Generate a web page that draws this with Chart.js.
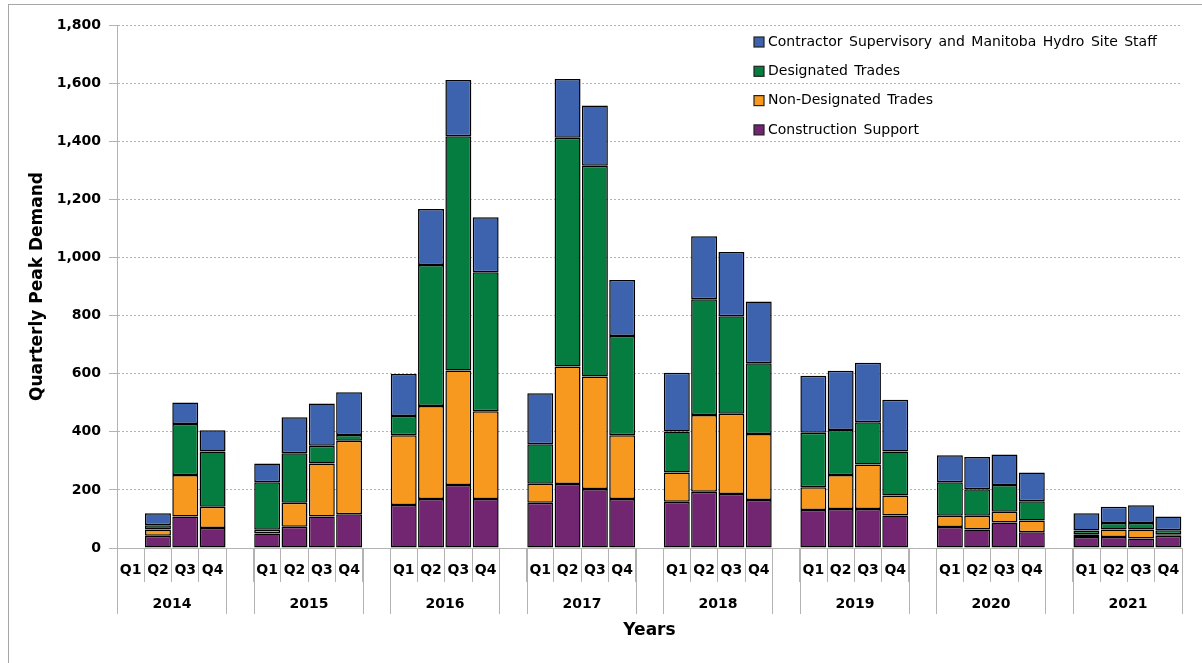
<!DOCTYPE html>
<html>
<head>
<meta charset="utf-8">
<script src="https://cdn.jsdelivr.net/npm/chart.js@4.4.0/dist/chart.umd.min.js"></script>
<style>
  html, body { margin: 0; padding: 0; background: #fff; }
  #frame { position: absolute; left: 8px; top: 4px; width: 1300px; height: 700px;
           border-left: 1px solid #a6a6a6; border-top: 1px solid #a6a6a6; }
  #wrap { position: absolute; left: 0; top: 0; width: 1202px; height: 663px; }
</style>
</head>
<body>
<div id="frame"></div>
<div id="wrap"><canvas id="myChart"></canvas></div>
<script type="text/javascript">
// quarterly peak demand, stacked by worker category
var years = ["2014", "2015", "2016", "2017", "2018", "2019", "2020", "2021"]
var quarters = ["Q1", "Q2", "Q3", "Q4"]

// 4 values per year, Q1..Q4 (null = no bar)
var constructionSupport = [null, 42, 108, 69,  50, 73, 108, 116,  148, 169, 217, 169,  156, 220, 203, 169,
                           159, 194, 186, 165,  131, 134, 134, 112,  72, 64, 88, 54,  38, 38, 33, 42]
var nonDesignated = [null, 22, 143, 73,  13, 83, 183, 253,  240, 320, 394, 302,  65, 405, 387, 219,
                     101, 264, 276, 227,  78, 117, 153, 69,  39, 47, 37, 41,  9, 26, 31, 5]
var designated = [null, 14, 176, 190,  163, 170, 61, 20,  66, 485, 806, 478,  136, 787, 726, 342,
                  141, 398, 336, 244,  188, 155, 146, 151,  115, 91, 92, 66,  13, 22, 22, 14]
var contractorStaff = [null, 42, 74, 73,  65, 124, 145, 147,  145, 193, 194, 189,  176, 202, 207, 192,
                       202, 217, 221, 212,  196, 204, 205, 178,  93, 111, 105, 99,  60, 56, 61, 47]

var yTicks = [0, 200, 400, 600, 800, 1000, 1200, 1400, 1600, 1800]

// one empty slot between each year
var labels = []
years.forEach((y, i) => {
  quarters.forEach(q => labels.push(q))
  if (i < years.length - 1) labels.push("")
})
function spread(vals) {
  var out = []
  years.forEach((y, i) => {
    for (var q = 0; q < 4; q++) out.push(vals[i * 4 + q])
    if (i < years.length - 1) out.push(null)
  })
  return out
}

var FONT = "'DejaVu Sans', sans-serif"
var gridGray = '#b3b3b3'

function barSet(label, data, color) {
  return {
    label: label,
    data: spread(data),
    backgroundColor: color,
    borderColor: '#000',
    borderWidth: 1.5,
    borderSkipped: false,
    barPercentage: 0.95,
    categoryPercentage: 1.0
  }
}

// year row under the quarter labels
var yearRow = {
  id: 'yearRow',
  afterDraw(chart) {
    var ctx = chart.ctx, x = chart.scales.x, area = chart.chartArea
    var slot = x.getPixelForValue(1) - x.getPixelForValue(0)
    ctx.save()
    ctx.strokeStyle = gridGray
    ctx.lineWidth = 1
    ctx.fillStyle = '#000'
    ctx.font = "bold 14px " + FONT
    ctx.textAlign = 'center'
    ctx.textBaseline = 'middle'
    years.forEach((y, i) => {
      var l = Math.round(x.getPixelForValue(i * 5) - slot / 2) + 0.5
      var r = Math.round(x.getPixelForValue(i * 5 + 3) + slot / 2) + 0.5
      ctx.beginPath()
      ctx.moveTo(l, area.bottom); ctx.lineTo(l, area.bottom + 66)
      ctx.moveTo(r, area.bottom); ctx.lineTo(r, area.bottom + 66)
      ctx.stroke()
      ctx.fillText(y, (l + r) / 2, area.bottom + 56)
    })
    ctx.restore()
  }
}

// legend inside the plot, top right, top series first
var boxLegend = {
  id: 'boxLegend',
  afterDraw(chart) {
    var ctx = chart.ctx
    var sets = chart.data.datasets.slice().reverse()
    ctx.save()
    ctx.font = "14px " + FONT
    ctx.textBaseline = 'middle'
    ctx.textAlign = 'left'
    ctx.wordSpacing = '2px'
    sets.forEach((ds, i) => {
      var cy = 42 + i * 29.3
      ctx.fillStyle = ds.backgroundColor
      ctx.fillRect(754, cy - 5, 10, 10)
      ctx.strokeStyle = '#222'
      ctx.lineWidth = 1.2
      ctx.strokeRect(754, cy - 5, 10, 10)
      ctx.fillStyle = '#000'
      ctx.fillText(ds.label, 768, cy)
    })
    ctx.restore()
  }
}

var config = {
  type: 'bar',
  data: {
    labels: labels,
    datasets: [
      barSet('Construction Support', constructionSupport, '#722570'),
      barSet('Non-Designated Trades', nonDesignated, '#F7981F'),
      barSet('Designated Trades', designated, '#067D40'),
      barSet('Contractor Supervisory and Manitoba Hydro Site Staff', contractorStaff, '#3D63AE')
    ]
  },
  options: {
    responsive: false,
    animation: false,
    devicePixelRatio: 1,
    layout: { autoPadding: false, padding: { left: 0, top: 25, right: 20, bottom: 0 } },
    plugins: {
      legend: { display: false },
      tooltip: { enabled: false }
    },
    scales: {
      x: {
        stacked: true,
        offset: true,
        grid: {
          offset: true,
          drawOnChartArea: false,
          color: gridGray,
          tickLength: 34,
          tickBorderDash: []
        },
        border: { color: gridGray, width: 1 },
        ticks: {
          autoSkip: false,
          maxRotation: 0,
          padding: -20,
          color: '#000',
          font: { family: FONT, size: 14, weight: 'bold' }
        },
        title: {
          display: true,
          text: 'Years',
          color: '#000',
          padding: { top: 0, bottom: 22 },
          font: { family: FONT, size: 17, weight: 'bold' }
        },
        afterFit: s => { s.height = 115 }
      },
      y: {
        stacked: true,
        min: 0,
        max: 1800,
        afterBuildTicks: s => { s.ticks = yTicks.map(v => ({ value: v })) },
        grid: {
          color: gridGray,
          tickLength: 8,
          tickBorderDash: []
        },
        border: { color: gridGray, width: 1, dash: [2, 2] },
        ticks: {
          padding: 8,
          color: '#000',
          font: { family: FONT, size: 14, weight: 'bold' },
          callback: v => v.toLocaleString('en-US')
        },
        title: {
          display: true,
          text: 'Quarterly Peak Demand',
          color: '#000',
          padding: { top: 27, bottom: 0 },
          font: { family: FONT, size: 17, weight: 'bold' }
        },
        afterFit: s => { s.width = 117 }
      }
    }
  },
  plugins: [yearRow, boxLegend]
}

var cv = document.getElementById('myChart')
cv.width = 1202
cv.height = 663
var myChart = new Chart(cv, config)
</script>
</body>
</html>
